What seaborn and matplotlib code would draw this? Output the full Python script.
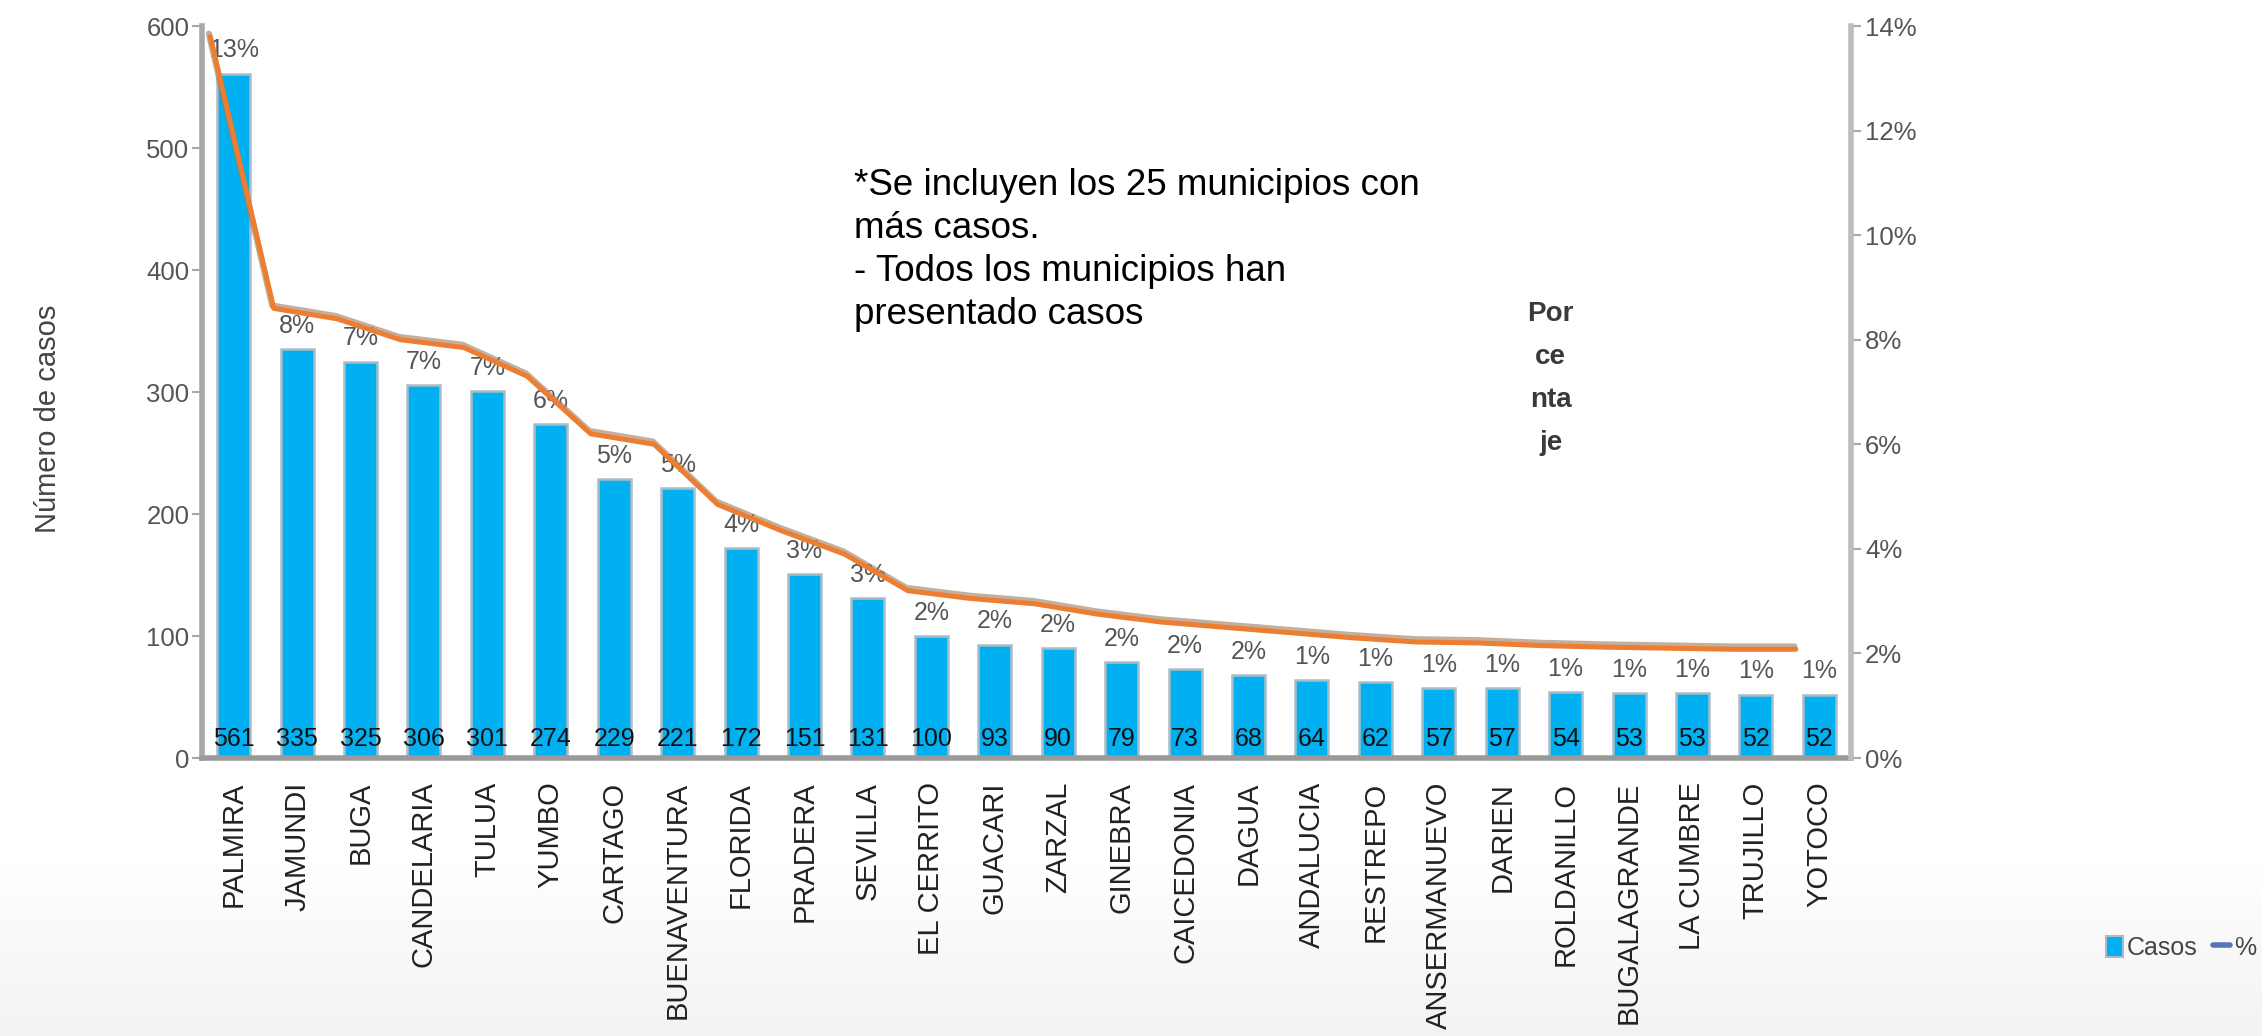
import numpy as np
import pandas as pd
import matplotlib
matplotlib.use("Agg")
import matplotlib.pyplot as plt
import matplotlib.patheffects as pe
from matplotlib.patches import Patch
from matplotlib.lines import Line2D
import seaborn as sns


municipios = [
    "PALMIRA", "JAMUNDI", "BUGA", "CANDELARIA", "TULUA", "YUMBO",
    "CARTAGO", "BUENAVENTURA", "FLORIDA", "PRADERA", "SEVILLA",
    "EL CERRITO", "GUACARI", "ZARZAL", "GINEBRA", "CAICEDONIA", "DAGUA",
    "ANDALUCIA", "RESTREPO", "ANSERMANUEVO", "DARIEN", "ROLDANILLO",
    "BUGALAGRANDE", "LA CUMBRE", "TRUJILLO", "YOTOCO",
]

casos = [
    561, 335, 325, 306, 301, 274, 229, 221, 172, 151, 131, 100, 93,
    90, 79, 73, 68, 64, 62, 57, 57, 54, 53, 53, 52, 52,
]

# curva de porcentaje tal como se ve en el grafico (eje derecho)
porcentaje = [
    13.8, 8.6, 8.4, 8.0, 7.85, 7.3, 6.2, 6.0, 4.85, 4.35, 3.9, 3.2, 3.05,
    2.95, 2.75, 2.6, 2.5, 2.4, 2.3, 2.22, 2.2, 2.15, 2.12, 2.1, 2.08, 2.08,
]

etiquetas_pct = [
    "13%", "8%", "7%", "7%", "7%", "6%", "5%", "5%", "4%", "3%", "3%",
    "2%", "2%", "2%", "2%", "2%", "2%", "1%", "1%", "1%", "1%", "1%",
    "1%", "1%", "1%", "1%",
]

y_ticks = [0, 100, 200, 300, 400, 500, 600]
pct_ticks = [0, 2, 4, 6, 8, 10, 12, 14]

NOTA = (
    "*Se incluyen los 25 municipios con\n"
    "más casos.\n"
    "- Todos los municipios han\n"
    "presentado casos"
)

AZUL = "#00B0F0"
NARANJA = "#ED7D31"
GRIS = "#A8A8A8"


def main():

    sns.set_style("white")
    plt.rcParams["font.family"] = ["Liberation Sans", "DejaVu Sans"]

    df = pd.DataFrame({"municipio": municipios, "casos": casos})

    fig = plt.figure(figsize=(22.62, 10.36), dpi=100)

    # leve degradado gris en la parte baja
    bg = fig.add_axes([0, 0, 1, 0.17], zorder=-5)
    grad = np.linspace(1.0, 0.0, 50).reshape(-1, 1)
    bg.imshow(grad, cmap=plt.matplotlib.colors.LinearSegmentedColormap.from_list(
        "g", ["#F3F3F3", "#FFFFFF"]), aspect="auto", extent=[0, 1, 0, 1])
    bg.axis("off")

    ax = fig.add_axes([0.0893, 0.2683, 0.7290, 0.7066])
    ax.patch.set_alpha(0)

    sns.barplot(
        data=df,
        x="municipio",
        y="casos",
        color=AZUL,
        saturation=1,
        width=0.52,
        edgecolor="#A9BCC8",
        linewidth=1.8,
        ax=ax,
    )

    n = len(municipios)
    ax.set_xlim(-0.5, n - 0.5)
    ax.set_ylim(0, 600)
    ax.set_yticks(y_ticks)

    # valores en la base de cada barra
    for i, v in enumerate(casos):
        ax.annotate(
            str(v), (i, 0), xytext=(0, 5), textcoords="offset points",
            ha="center", va="bottom", fontsize=18, color="#111111",
        )

    ax.bar_label(
        ax.containers[0], labels=etiquetas_pct, padding=8,
        fontsize=18, color="#555555",
    )

    ax2 = ax.twinx()
    sns.lineplot(
        x=np.arange(n) - 0.37,
        y=porcentaje,
        color=NARANJA,
        linewidth=3.6,
        ax=ax2,
    )
    ax2.lines[0].set_path_effects([
        pe.SimpleLineShadow(offset=(-1, 2), shadow_color="#9C7A5C",
                            alpha=0.6, linewidth=4.5),
        pe.Normal(),
    ])
    ax2.set_ylim(0, 14)
    ax2.set_yticks(pct_ticks)
    ax2.set_yticklabels([f"{t}%" for t in pct_ticks])
    ax.set_xlim(-0.5, n - 0.5)

    for a in (ax, ax2):
        for side in a.spines:
            a.spines[side].set_visible(False)

    ax.spines["left"].set_visible(True)
    ax.spines["left"].set_color(GRIS)
    ax.spines["left"].set_linewidth(4)
    ax.spines["bottom"].set_visible(True)
    ax.spines["bottom"].set_color("#9A9A9A")
    ax.spines["bottom"].set_linewidth(4)
    ax2.spines["right"].set_visible(True)
    ax2.spines["right"].set_color("#BDBDBD")
    ax2.spines["right"].set_linewidth(4)

    ax.tick_params(axis="y", left=True, length=7, width=1.5, color=GRIS,
                   pad=2, labelsize=18.5, labelcolor="#555555")
    ax2.tick_params(axis="y", right=True, length=7, width=1.5, color=GRIS,
                    pad=3, labelsize=18.5, labelcolor="#555555")
    ax.tick_params(axis="x", bottom=False, length=0, pad=17,
                   labelsize=21, labelcolor="#222222", labelrotation=90)
    for lab in ax.get_xticklabels():
        lab.set_va("top")

    ax.set_xlabel("")
    ax2.set_ylabel("")
    ax.set_ylabel("Número de casos", fontsize=21, color="#444444")
    ax.yaxis.set_label_coords(-0.085, 0.464)

    fig.text(0.3775, 0.838, NOTA, fontsize=26.5, color="black",
             ha="left", va="top", linespacing=1.3)

    fig.text(0.6855, 0.635, "Por\nce\nnta\nje", fontsize=20,
             fontweight="bold", color="#3A3A3A", ha="center", va="center",
             linespacing=1.85)

    handles = [
        Patch(facecolor=AZUL, edgecolor="#A9BCC8", linewidth=1.5),
        Line2D([0], [0], color="#5577B5", linewidth=4),
    ]
    fig.legend(
        handles, ["Casos", "%"], loc="center left",
        bbox_to_anchor=(0.931, 0.085), ncol=2, frameon=False,
        fontsize=18, labelcolor="#444444", handlelength=0.7,
        handleheight=0.9, handletextpad=0.15, columnspacing=0.6,
        borderpad=0, borderaxespad=0,
    )

    fig.savefig("out.png", dpi=100)


if __name__ == "__main__":
    main()
